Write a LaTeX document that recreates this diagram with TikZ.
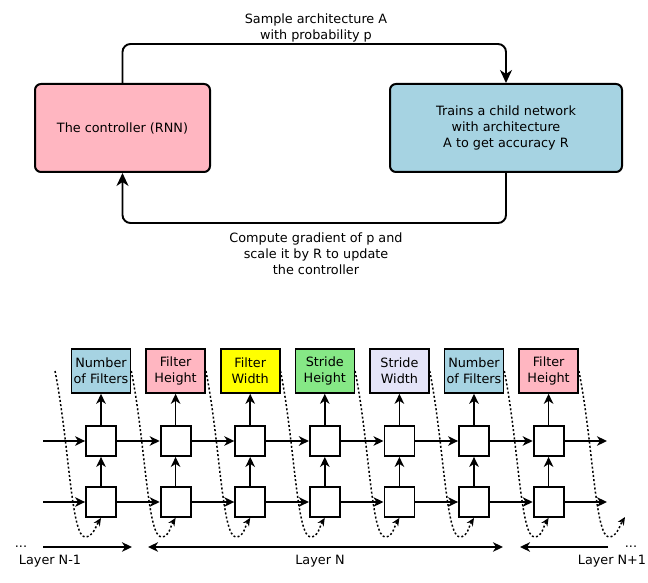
\documentclass[tikz,border=0pt]{standalone}
\usepackage{fontspec}
\setmainfont{DejaVu Sans}
\usetikzlibrary{arrows.meta}
\definecolor{cpink}{HTML}{FFB6C1}
\definecolor{cblue}{HTML}{A6D3E2}
\definecolor{cyellow}{HTML}{FFFF00}
\definecolor{cgreen}{HTML}{86E886}
\definecolor{clav}{HTML}{E4E4F8}
\begin{document}
\begin{tikzpicture}[x=1pt,y=-1pt,
  font=\fontsize{12.8}{16}\selectfont,
  bigbox/.style={draw, line width=2pt, rounded corners=6pt, minimum height=88pt, align=center, inner sep=2pt},
  conn/.style={line width=1.9pt, rounded corners=8pt, -{Stealth[length=13pt,width=12pt,inset=4pt]}},
  lbl/.style={draw, line width=1.6pt, minimum width=59pt, minimum height=44pt, inner sep=1pt, align=center},
  cell/.style={draw, line width=1.8pt, minimum size=30pt, inner sep=0pt, fill=white},
  arr/.style={line width=1.7pt, -{Stealth[length=10pt,width=9.5pt,inset=3pt]}},
  darr/.style={line width=1.7pt, {Stealth[length=10pt,width=9.5pt,inset=3pt]}-{Stealth[length=10pt,width=9.5pt,inset=3pt]}},
  dots/.style={line width=1.5pt, dash pattern=on 2pt off 2.2pt, -{Stealth[length=8pt,width=7pt,inset=2.5pt]}},
  txt/.style={align=center, inner sep=0pt}
]
\useasboundingbox (0,0) rectangle (648,583);

% ---- top loop ----
\node[bigbox, fill=cpink, minimum width=175pt] (ctrl) at (122.5,128) {The controller (RNN)};
\node[bigbox, fill=cblue, minimum width=232pt] (child) at (506,128) {Trains a child network\\with architecture\\A to get accuracy R};
\draw[conn] (ctrl.north) -- ++(0,-39) -| (child.north);
\draw[conn] (child.south) -- ++(0,50) -| (ctrl.south);
\node[txt] (toptxt) at (316,28) {Sample architecture A\\with probability p};
\node[txt] (bottxt) at (316,254) {Compute gradient of p and\\scale it by R to update\\the controller};

% ---- controller unrolled ----
\foreach \i/\t/\c in {0/{Number\\of Filters}/cblue, 1/{Filter\\Height}/cpink, 2/{Filter\\Width}/cyellow, 3/{Stride\\Height}/cgreen, 4/{Stride\\Width}/clav, 5/{Number\\of Filters}/cblue, 6/{Filter\\Height}/cpink}{
  \pgfmathsetmacro{\cx}{101+74.6*\i}
  \node[lbl, fill=\c] (L\i) at (\cx,371) {\t};
  \node[cell] (U\i) at (\cx,441) {};
  \node[cell] (D\i) at (\cx,502) {};
  \draw[arr] (D\i) -- (U\i);
  \draw[arr] (U\i) -- (L\i);
}
\coordinate (uin) at (43,441);
\coordinate (din) at (43,502);
\coordinate (uout) at (607,441);
\coordinate (dout) at (607,502);
\draw[arr] (uin) -- (U0);
\draw[arr] (din) -- (D0);
\foreach \i/\j in {0/1,1/2,2/3,3/4,4/5,5/6}{
  \draw[arr] (U\i) -- (U\j);
  \draw[arr] (D\i) -- (D\j);
}
\draw[arr] (U6) -- (uout);
\draw[arr] (D6) -- (dout);

% dotted feedback curves
\coordinate (s0) at (55,371);
\coordinate (e7) at (625,517);
\draw[dots] (s0) .. controls +(14,70) and +(-14,0) .. ++(30,166) .. controls +(8,0) and +(-5,8) .. (D0.south);
\foreach \i/\j in {0/1,1/2,2/3,3/4,4/5,5/6}{
  \draw[dots] (L\i.east) .. controls +(14,70) and +(-14,0) .. ++(30,166) .. controls +(8,0) and +(-5,8) .. (D\j.south);
}
\draw[dots] (L6.east) .. controls +(14,70) and +(-14,0) .. ++(30,166) .. controls +(8,0) and +(-5,8) .. (e7);

% layer arrows
\coordinate (a1s) at (43,547);
\coordinate (a1e) at (132,547);
\coordinate (a2s) at (148,547);
\coordinate (a2e) at (503,547);
\coordinate (a3s) at (608,547);
\coordinate (a3e) at (520,547);
\draw[arr] (a1s) -- (a1e);
\draw[darr] (a2s) -- (a2e);
\draw[arr] (a3s) -- (a3e);
\node[anchor=base, inner sep=0pt] (dl) at (21,547) {...};
\node[anchor=base, inner sep=0pt] (dr) at (631,547) {...};
\node[anchor=base, inner sep=0pt] (ln1) at (50,564) {Layer N-1};
\node[anchor=base, inner sep=0pt] (ln) at (320,564) {Layer N};
\node[anchor=base, inner sep=0pt] (ln2) at (612,564) {Layer N+1};
\end{tikzpicture}
\end{document}
